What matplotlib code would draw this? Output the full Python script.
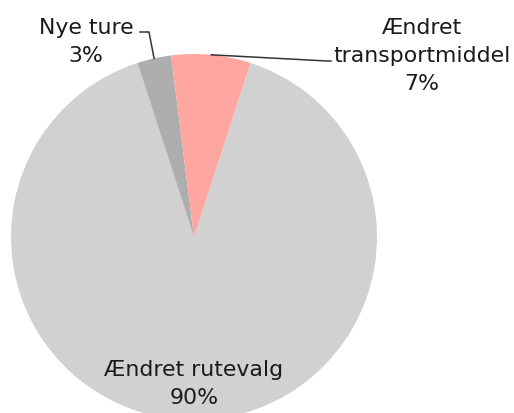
import matplotlib
matplotlib.use("Agg")
import matplotlib.pyplot as plt
import numpy as np

labels = ["Ændret rutevalg", "Nye ture", "Ændret\ntransportmiddel"]
shares = [90, 3, 7]
colors = ["#D1D1D1", "#AFAEAE", "#FFA6A0"]

W, H = 514, 414
CX, CY, R = 194, H - 238, 183

fig = plt.figure(figsize=(W / 100, H / 100), dpi=100)
ax = fig.add_axes([0, 0, 1, 1])

wedges, _ = ax.pie(
    shares,
    colors=colors,
    startangle=72,
    counterclock=False,
    center=(CX, CY),
    radius=R,
    frame=True,
    wedgeprops=dict(linewidth=0),
)
ax.set_xlim(0, W)
ax.set_ylim(0, H)
ax.set_aspect("equal")
ax.axis("off")

font = dict(family="DejaVu Sans", fontsize=15.8, color="#1a1a1a",
            ha="center", va="center", linespacing=1.5)


def edge_point(wedge):
    mid = np.deg2rad((wedge.theta1 + wedge.theta2) / 2)
    return CX + R * np.cos(mid), CY + R * np.sin(mid)


# inner label for the big slice
ax.text(194, H - 384, f"{labels[0]}\n{shares[0]}%", **font)

# Nye ture with leader line
px, py = edge_point(wedges[1])
ax.plot([px, 149, 140], [py, H - 33, H - 33], color="#333333", lw=1.1)
ax.text(86, H - 42, f"{labels[1]}\n{shares[1]}%", **font)

# Ændret transportmiddel with leader line
px, py = edge_point(wedges[2])
ax.plot([px, 327, 331], [py, H - 62, H - 62], color="#333333", lw=1.1)
ax.text(422, H - 56, f"{labels[2]}\n{shares[2]}%", **font)

fig.savefig("out.png", dpi=100)
